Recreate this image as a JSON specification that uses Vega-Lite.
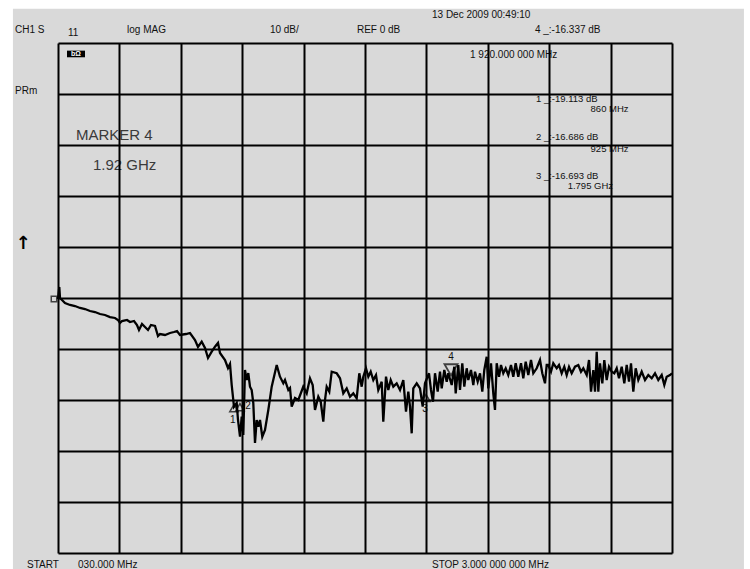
{
  "$schema": "https://vega.github.io/schema/vega-lite/v6.json",
  "width": 614,
  "height": 510,
  "autosize": {"type": "none"},
  "padding": {"left": 58, "top": 43, "right": 78, "bottom": 16},
  "background": "white",
  "view": {"stroke": null},
  "config": {"font": "Liberation Sans"},
  "datasets": {
    "frame": [{"f1": -188, "f2": 3348, "d1": 56.7, "d2": -54}],
    "trace": [
      {"f": 30, "db": -0.2}, {"f": 36.3, "db": 2.16}, {"f": 39.7, "db": 0}, {"f": 49.3, "db": -0.39},
      {"f": 63.9, "db": -0.98}, {"f": 88, "db": -1.37}, {"f": 112.2, "db": -1.57}, {"f": 136.4, "db": -1.96},
      {"f": 160.6, "db": -2.16}, {"f": 184.8, "db": -2.55}, {"f": 209, "db": -2.75}, {"f": 233.2, "db": -3.14},
      {"f": 257.3, "db": -3.33}, {"f": 281.5, "db": -3.73}, {"f": 305.7, "db": -3.92}, {"f": 320.2, "db": -4.31},
      {"f": 329.9, "db": -4.9}, {"f": 339.6, "db": -4.51}, {"f": 363.8, "db": -4.31}, {"f": 378.3, "db": -4.71},
      {"f": 397.6, "db": -4.51}, {"f": 412.1, "db": -5.29}, {"f": 421.8, "db": -6.27}, {"f": 436.3, "db": -5.1},
      {"f": 450.8, "db": -5.69}, {"f": 465.3, "db": -6.27}, {"f": 479.8, "db": -5.29}, {"f": 499.2, "db": -5.49},
      {"f": 513.7, "db": -7.45}, {"f": 523.4, "db": -7.06}, {"f": 547.6, "db": -7.25}, {"f": 571.8, "db": -6.86},
      {"f": 591.1, "db": -6.67}, {"f": 605.6, "db": -6.47}, {"f": 620.1, "db": -7.25}, {"f": 649.2, "db": -7.06},
      {"f": 668.5, "db": -6.86}, {"f": 692.7, "db": -8.24}, {"f": 707.2, "db": -9.61}, {"f": 725.1, "db": -8.57},
      {"f": 741.1, "db": -9.8}, {"f": 755.6, "db": -11.76}, {"f": 773.5, "db": -10.53}, {"f": 789.4, "db": -9.55},
      {"f": 804, "db": -8.82}, {"f": 813.6, "db": -10.78}, {"f": 837.8, "db": -12.16}, {"f": 852.3, "db": -13.73},
      {"f": 862, "db": -12.94}, {"f": 870.2, "db": -17.06}, {"f": 881.3, "db": -21.31}, {"f": 894.4, "db": -20.59},
      {"f": 900.7, "db": -23.92}, {"f": 910.4, "db": -27.2}, {"f": 918.6, "db": -23.27}, {"f": 926.3, "db": -26.86},
      {"f": 934.5, "db": -14.12}, {"f": 942.8, "db": -16.08}, {"f": 950.5, "db": -14.71}, {"f": 958.7, "db": -17.39},
      {"f": 966.9, "db": -18.04}, {"f": 974.7, "db": -20.59}, {"f": 982.9, "db": -28.43}, {"f": 991.1, "db": -23.92},
      {"f": 998.9, "db": -25.24}, {"f": 1007.1, "db": -23.92}, {"f": 1018.2, "db": -27.2}, {"f": 1031.3, "db": -25.88},
      {"f": 1047.3, "db": -21.96}, {"f": 1063.7, "db": -17.39}, {"f": 1087.9, "db": -13.14}, {"f": 1103.8, "db": -15.43},
      {"f": 1119.8, "db": -16.73}, {"f": 1128, "db": -16.08}, {"f": 1144, "db": -18.04}, {"f": 1152.2, "db": -17.65},
      {"f": 1160.4, "db": -21.31}, {"f": 1176.4, "db": -19.61}, {"f": 1192.4, "db": -20}, {"f": 1216.5, "db": -17.39},
      {"f": 1233, "db": -18.69}, {"f": 1248.9, "db": -15.75}, {"f": 1262, "db": -17.06}, {"f": 1273.1, "db": -21.96},
      {"f": 1289.1, "db": -19.35}, {"f": 1300.7, "db": -20.33}, {"f": 1313.3, "db": -24.25}, {"f": 1321.5, "db": -20},
      {"f": 1329.7, "db": -17.39}, {"f": 1342.3, "db": -18.37}, {"f": 1353.9, "db": -14.45}, {"f": 1378.1, "db": -14.76},
      {"f": 1394.1, "db": -15.75}, {"f": 1410, "db": -18.69}, {"f": 1426.5, "db": -17.71}, {"f": 1442.4, "db": -19.35},
      {"f": 1458.4, "db": -18.69}, {"f": 1474.8, "db": -19.67}, {"f": 1487.4, "db": -14.76}, {"f": 1499, "db": -17.39},
      {"f": 1506.8, "db": -15.43}, {"f": 1519.8, "db": -13.78}, {"f": 1531, "db": -15.43}, {"f": 1542.6, "db": -14.45},
      {"f": 1555.2, "db": -16.08}, {"f": 1568.2, "db": -15.1}, {"f": 1579.3, "db": -18.04}, {"f": 1595.8, "db": -16.41},
      {"f": 1603.5, "db": -24.25}, {"f": 1616.6, "db": -15.43}, {"f": 1627.7, "db": -18.04}, {"f": 1639.3, "db": -16.08},
      {"f": 1651.9, "db": -17.39}, {"f": 1668.3, "db": -16.73}, {"f": 1684.3, "db": -18.04}, {"f": 1700.3, "db": -16.08},
      {"f": 1713.3, "db": -22.29}, {"f": 1724.5, "db": -18.37}, {"f": 1732.7, "db": -21.31}, {"f": 1740.9, "db": -26.53},
      {"f": 1748.6, "db": -17.71}, {"f": 1765.1, "db": -16.73}, {"f": 1781, "db": -17.71}, {"f": 1794.1, "db": -21.31},
      {"f": 1805.2, "db": -16.73}, {"f": 1821.2, "db": -15.1}, {"f": 1824.6, "db": -14.76}, {"f": 1834.2, "db": -18.04},
      {"f": 1843.9, "db": -20.33}, {"f": 1853.6, "db": -14.76}, {"f": 1866.6, "db": -18.37}, {"f": 1877.8, "db": -14.45},
      {"f": 1886, "db": -17.71}, {"f": 1898.6, "db": -14.12}, {"f": 1910.2, "db": -16.41}, {"f": 1917.9, "db": -14.76},
      {"f": 1934.4, "db": -17.06}, {"f": 1947, "db": -13.47}, {"f": 1953.7, "db": -18.69}, {"f": 1966.3, "db": -13.14},
      {"f": 1974.5, "db": -18.04}, {"f": 1985.6, "db": -12.8}, {"f": 1995.3, "db": -17.39}, {"f": 2006.9, "db": -13.78},
      {"f": 2014.7, "db": -16.08}, {"f": 2027.7, "db": -14.12}, {"f": 2038.9, "db": -17.06}, {"f": 2047.1, "db": -14.45},
      {"f": 2060.1, "db": -16.41}, {"f": 2071.3, "db": -14.76}, {"f": 2082.4, "db": -18.37}, {"f": 2092.1, "db": -14.12},
      {"f": 2103.7, "db": -11.51}, {"f": 2111.4, "db": -17.71}, {"f": 2124.5, "db": -12.8}, {"f": 2135.6, "db": -18.69},
      {"f": 2143.8, "db": -21.96}, {"f": 2152, "db": -12.8}, {"f": 2163.2, "db": -15.43}, {"f": 2172.8, "db": -13.14},
      {"f": 2183.9, "db": -14.76}, {"f": 2195.5, "db": -13.78}, {"f": 2208.1, "db": -15.1}, {"f": 2221.2, "db": -13.14},
      {"f": 2232.3, "db": -15.43}, {"f": 2243.9, "db": -12.8}, {"f": 2256.5, "db": -15.43}, {"f": 2269.6, "db": -12.8},
      {"f": 2280.7, "db": -15.75}, {"f": 2292.3, "db": -12.49}, {"f": 2304.9, "db": -15.1}, {"f": 2318, "db": -12.16},
      {"f": 2329.1, "db": -14.76}, {"f": 2345.6, "db": -13.78}, {"f": 2361.5, "db": -12.16}, {"f": 2372.6, "db": -14.76},
      {"f": 2385.7, "db": -16.73}, {"f": 2393.9, "db": -13.14}, {"f": 2401.6, "db": -13.14}, {"f": 2414.7, "db": -14.45},
      {"f": 2425.8, "db": -12.8}, {"f": 2442.3, "db": -13.78}, {"f": 2453.4, "db": -13.14}, {"f": 2466.4, "db": -14.76},
      {"f": 2479, "db": -13.47}, {"f": 2490.6, "db": -15.1}, {"f": 2501.8, "db": -13.53}, {"f": 2514.8, "db": -14.76},
      {"f": 2530.8, "db": -13.47}, {"f": 2546.8, "db": -13.14}, {"f": 2559.8, "db": -14.45}, {"f": 2571, "db": -13.78},
      {"f": 2587.4, "db": -15.1}, {"f": 2598.6, "db": -12.16}, {"f": 2608.3, "db": -18.37}, {"f": 2619.4, "db": -14.12},
      {"f": 2627.6, "db": -18.37}, {"f": 2635.8, "db": -10.53}, {"f": 2643.6, "db": -18.37}, {"f": 2651.7, "db": -12.8},
      {"f": 2662.9, "db": -16.73}, {"f": 2672.5, "db": -12.16}, {"f": 2684.1, "db": -16.08}, {"f": 2695.3, "db": -13.47},
      {"f": 2708.3, "db": -14.45}, {"f": 2720.9, "db": -14.76}, {"f": 2732.5, "db": -13.78}, {"f": 2743.6, "db": -15.75},
      {"f": 2756.7, "db": -13.47}, {"f": 2769.3, "db": -16.73}, {"f": 2780.9, "db": -13.14}, {"f": 2792, "db": -16.41},
      {"f": 2801.7, "db": -12.8}, {"f": 2812.8, "db": -18.37}, {"f": 2824.4, "db": -13.78}, {"f": 2837, "db": -16.08},
      {"f": 2853.4, "db": -14.45}, {"f": 2869.4, "db": -16.08}, {"f": 2885.4, "db": -15.1}, {"f": 2901.8, "db": -15.75},
      {"f": 2917.8, "db": -14.76}, {"f": 2933.7, "db": -16.08}, {"f": 2950.2, "db": -15.1}, {"f": 2962.8, "db": -17.06},
      {"f": 2974.4, "db": -15.43}, {"f": 2990.4, "db": -15.1}, {"f": 3000, "db": -14.76}
    ],
    "labels": [
      {"t": "CH1 S", "f": -178, "db": 52.55},
      {"t": "11", "f": 78, "db": 51.9},
      {"t": "log MAG", "f": 364, "db": 52.55},
      {"t": "10 dB/", "f": 1055, "db": 52.55},
      {"t": "REF 0 dB", "f": 1476, "db": 52.55},
      {"t": "13 Dec 2009  00:49:10", "f": 1839, "db": 55.5},
      {"t": "4  _:-16.337 dB", "f": 2337, "db": 52.55},
      {"t": "PRm", "f": -178, "db": 40.6},
      {"t": "1 920.000 000 MHz", "f": 2023, "db": 47.65},
      {"t": "START", "f": -120, "db": -52.35},
      {"t": "030.000 MHz", "f": 127, "db": -52.35},
      {"t": "STOP 3.000 000 000 MHz", "f": 1839, "db": -52.35}
    ],
    "readouts": [
      {"t": "1  _:-19.113 dB", "f": 2342, "db": 39.0},
      {"t": "2  _:-16.686 dB", "f": 2342, "db": 31.5},
      {"t": "3  _:-16.693 dB", "f": 2342, "db": 24.0}
    ],
    "readoutFreqs": [
      {"t": "860 MHz", "f": 2790, "db": 37.0},
      {"t": "925 MHz", "f": 2790, "db": 29.3},
      {"t": "1.795 GHz", "f": 2715, "db": 21.9}
    ],
    "big": [
      {"t": "MARKER 4", "f": 117, "db": 31.96},
      {"t": "1.92 GHz", "f": 199, "db": 26.08}
    ],
    "arrow": [{"t": "↑", "f": -139, "db": 10.6}],
    "icon": [{"f1": 73.5, "f2": 160.6, "d1": 48.5, "d2": 47.2}],
    "iconText": [{"t": "bΩ", "f": 117, "db": 47.85}],
    "markerNums": [
      {"t": "4", "f": 1931, "db": -11.57},
      {"t": "1", "f": 876, "db": -23.9},
      {"t": "2", "f": 949, "db": -21.2},
      {"t": "3", "f": 1805, "db": -21.8}
    ],
    "markDown": [{"m": "4", "f": 1931, "db": -14.1}],
    "markUp": [
      {"m": "1", "f": 881, "db": -21.6},
      {"m": "2", "f": 910, "db": -21.4},
      {"m": "3", "f": 1810, "db": -19.6}
    ],
    "refMark": [{"f": 10.6, "db": -0.2}]
  },
  "layer": [
    {
      "data": {"name": "frame"},
      "mark": {"type": "rect", "color": "#d9d9d9"},
      "encoding": {
        "x": {"field": "f1", "type": "quantitative", "scale": {"domain": [30, 3000], "nice": false, "zero": false},
          "axis": {"values": [30, 327, 624, 921, 1218, 1515, 1812, 2109, 2406, 2703, 3000], "grid": true, "gridColor": "black", "gridWidth": 2, "gridOpacity": 1, "labels": false, "ticks": false, "domain": false, "title": null, "zindex": 1}},
        "x2": {"field": "f2"},
        "y": {"field": "d1", "type": "quantitative", "scale": {"domain": [-50, 50], "nice": false, "zero": false},
          "axis": {"values": [-50, -40, -30, -20, -10, 0, 10, 20, 30, 40, 50], "grid": true, "gridColor": "black", "gridWidth": 2, "gridOpacity": 1, "labels": false, "ticks": false, "domain": false, "title": null, "zindex": 1}},
        "y2": {"field": "d2"}
      }
    },
    {
      "data": {"name": "trace"},
      "mark": {"type": "line", "color": "black", "strokeWidth": 2.3, "strokeJoin": "miter"},
      "encoding": {
        "x": {"field": "f", "type": "quantitative"},
        "y": {"field": "db", "type": "quantitative"}
      }
    },
    {
      "data": {"name": "labels"},
      "mark": {"type": "text", "align": "left", "baseline": "middle", "fontSize": 10, "color": "#111"},
      "encoding": {
        "x": {"field": "f", "type": "quantitative"},
        "y": {"field": "db", "type": "quantitative"},
        "text": {"field": "t"}
      }
    },
    {
      "data": {"name": "readouts"},
      "mark": {"type": "text", "align": "left", "baseline": "middle", "fontSize": 9.5, "color": "#111"},
      "encoding": {
        "x": {"field": "f", "type": "quantitative"},
        "y": {"field": "db", "type": "quantitative"},
        "text": {"field": "t"}
      }
    },
    {
      "data": {"name": "readoutFreqs"},
      "mark": {"type": "text", "align": "right", "baseline": "middle", "fontSize": 9.5, "color": "#111"},
      "encoding": {
        "x": {"field": "f", "type": "quantitative"},
        "y": {"field": "db", "type": "quantitative"},
        "text": {"field": "t"}
      }
    },
    {
      "data": {"name": "big"},
      "mark": {"type": "text", "align": "left", "baseline": "middle", "fontSize": 15, "color": "#3a3a3a"},
      "encoding": {
        "x": {"field": "f", "type": "quantitative"},
        "y": {"field": "db", "type": "quantitative"},
        "text": {"field": "t"}
      }
    },
    {
      "data": {"name": "arrow"},
      "mark": {"type": "text", "align": "center", "baseline": "middle", "fontSize": 18, "fontWeight": "bold", "color": "black", "font": "DejaVu Sans"},
      "encoding": {
        "x": {"field": "f", "type": "quantitative"},
        "y": {"field": "db", "type": "quantitative"},
        "text": {"field": "t"}
      }
    },
    {
      "data": {"name": "icon"},
      "mark": {"type": "rect", "color": "black"},
      "encoding": {
        "x": {"field": "f1", "type": "quantitative"},
        "x2": {"field": "f2"},
        "y": {"field": "d1", "type": "quantitative"},
        "y2": {"field": "d2"}
      }
    },
    {
      "data": {"name": "iconText"},
      "mark": {"type": "text", "align": "center", "baseline": "middle", "fontSize": 7, "fontWeight": "bold", "color": "white"},
      "encoding": {
        "x": {"field": "f", "type": "quantitative"},
        "y": {"field": "db", "type": "quantitative"},
        "text": {"field": "t"}
      }
    },
    {
      "data": {"name": "markerNums"},
      "mark": {"type": "text", "align": "center", "baseline": "middle", "fontSize": 10, "color": "#111"},
      "encoding": {
        "x": {"field": "f", "type": "quantitative"},
        "y": {"field": "db", "type": "quantitative"},
        "text": {"field": "t"}
      }
    },
    {
      "data": {"name": "markDown"},
      "mark": {"type": "point", "shape": "triangle-down", "filled": false, "stroke": "black", "strokeWidth": 1.8, "size": 170},
      "encoding": {
        "x": {"field": "f", "type": "quantitative"},
        "y": {"field": "db", "type": "quantitative"}
      }
    },
    {
      "data": {"name": "markUp"},
      "mark": {"type": "point", "shape": "triangle-up", "filled": false, "stroke": "black", "strokeWidth": 1.5, "size": 70},
      "encoding": {
        "x": {"field": "f", "type": "quantitative"},
        "y": {"field": "db", "type": "quantitative"}
      }
    },
    {
      "data": {"name": "refMark"},
      "mark": {"type": "point", "shape": "square", "filled": false, "stroke": "black", "strokeWidth": 1.5, "size": 30},
      "encoding": {
        "x": {"field": "f", "type": "quantitative"},
        "y": {"field": "db", "type": "quantitative"}
      }
    }
  ]
}
